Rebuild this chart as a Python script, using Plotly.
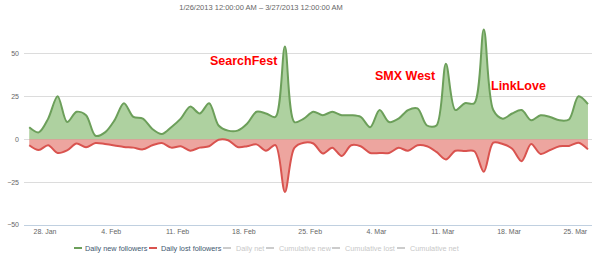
import pandas as pd
import plotly.graph_objects as go

# ---- data ----
start_date = "2013-01-26 08:00"   # points plotted at local midnight (UTC+8h offset)
n_days = 60
dates = pd.date_range(start_date, periods=n_days, freq="D")

daily_new = [7, 4, 12, 25, 10, 16, 14, 2, 4, 11,
             21, 13, 12, 6, 3, 7, 12, 19, 15, 21,
             8, 5, 5, 9, 16, 15, 13, 54, 10, 12,
             16, 14, 16, 14, 14, 13, 7, 17, 10, 12,
             17, 18, 8, 8, 44, 17, 21, 21, 64, 17,
             12, 15, 17, 11, 14, 13, 11, 11.5, 25, 20.5]

daily_lost = [-3.5, -6.3, -3.5, -8, -6.5, -2.5, -4.7, -2.2, -2.8, -3.6,
              -4.5, -4.9, -5.9, -3.5, -2.2, -4.9, -4.1, -6.7, -4.9, -4.1,
              -0.3, -0.6, -4.5, -4.1, -3, -6.7, -3.4, -30.7, -5, -2,
              -2.5, -8.3, -5, -9.8, -3.5, -4.1, -8, -8, -8, -5,
              -6.7, -3.5, -4.1, -7.4, -11.8, -6.7, -6.9, -7, -19, -2,
              -2.8, -5.5, -12.8, -2.8, -8.6, -6.3, -4.1, -3.9, -2, -5.9]

tick_dates = ["2013-01-28", "2013-02-04", "2013-02-11", "2013-02-18",
              "2013-02-25", "2013-03-04", "2013-03-11", "2013-03-18", "2013-03-25"]
tick_labels = ["28. Jan", "4. Feb", "11. Feb", "18. Feb",
               "25. Feb", "4. Mar", "11. Mar", "18. Mar", "25. Mar"]
y_ticks = [-50, -25, 0, 25, 50]

events = ["SearchFest", "SMX West", "LinkLove"]
event_x = ["2013-02-18 00:00", "2013-03-07 02:00", "2013-03-19 01:00"]
event_y = [45.6, 36.8, 31.2]

legend_names = ["Daily new followers", "Daily lost followers", "Daily net",
                "Cumulative new", "Cumulative lost", "Cumulative net"]
legend_active = [True, True, False, False, False, False]

title_text = "1/26/2013 12:00:00 AM \u2013 3/27/2013 12:00:00 AM"

# ---- style ----
FONT = "Liberation Sans, Arial, Helvetica, sans-serif"
green_line = "#6c9f5a"
green_fill = "rgba(120,178,96,0.60)"
red_line = "#d9534f"
red_fill = "rgba(226,110,100,0.62)"
legend_colors = [green_line, red_line, "#cccccc", "#cccccc", "#cccccc", "#cccccc"]

W, H = 600, 257
ML, MR, MT, MB = 24, 8, 26, 32
PW, PH = W - ML - MR, H - MT - MB

def px_x(px):
    return (px - ML) / PW

def px_y(py):
    return (H - MB - py) / PH

fig = go.Figure()
fig.add_trace(go.Scatter(x=dates, y=daily_new, mode="lines", name=legend_names[0],
                         line=dict(color=green_line, width=2, shape="spline", smoothing=0.9),
                         fill="tozeroy", fillcolor=green_fill, showlegend=False))
fig.add_trace(go.Scatter(x=dates, y=daily_lost, mode="lines", name=legend_names[1],
                         line=dict(color=red_line, width=2, shape="spline", smoothing=0.9),
                         fill="tozeroy", fillcolor=red_fill, showlegend=False))

for name, xv, yv in zip(events, event_x, event_y):
    fig.add_annotation(x=xv, y=yv, xref="x", yref="y", text="<b>%s</b>" % name,
                       showarrow=False, font=dict(family=FONT, size=12.5, color="#ff0000"),
                       xanchor="center", yanchor="middle")

# manual legend (Highcharts-style compact items)
legend_sym_px = [74, 149, 223, 266, 332, 397]
legend_txt_px = [83, 159, 234, 277, 343, 408]
leg_y = px_y(248)
for name, active, col, sx, tx in zip(legend_names, legend_active, legend_colors,
                                     legend_sym_px, legend_txt_px):
    fig.add_shape(type="line", xref="paper", yref="paper",
                  x0=px_x(sx), x1=px_x(sx + 8), y0=leg_y, y1=leg_y,
                  line=dict(color=col, width=2))
    fig.add_annotation(x=px_x(tx), y=leg_y, xref="paper", yref="paper", text=name,
                       showarrow=False, xanchor="left", yanchor="middle",
                       font=dict(family=FONT, size=7.3,
                                 color="#3e576f" if active else "#c8c8c8"))

fig.update_layout(
    width=W, height=H,
    margin=dict(l=ML, r=MR, t=MT, b=MB),
    paper_bgcolor="white", plot_bgcolor="white",
    title=dict(text=title_text, x=261 / W, y=1 - 7 / H, xanchor="center", yanchor="middle",
               font=dict(family=FONT, size=7.5, color="#666666")),
    showlegend=False,
    font=dict(family=FONT, size=7, color="#666666"),
)
fig.update_xaxes(type="date", range=["2013-01-25 18:47", "2013-03-26 18:15"],
                 tickvals=tick_dates, ticktext=tick_labels,
                 showgrid=False, showline=True, linecolor="#c0d0e0", linewidth=1,
                 ticks="", tickfont=dict(family=FONT, size=7, color="#666666"),
                 zeroline=False)
fig.update_yaxes(range=[-50, 66], tickvals=y_ticks,
                 showgrid=True, gridcolor="#dcdcdc", gridwidth=1,
                 zeroline=True, zerolinecolor="#dcdcdc", zerolinewidth=1,
                 showline=False, ticks="", ticklabelstandoff=4,
                 tickfont=dict(family=FONT, size=7, color="#666666"))

fig.write_html("out.html")
